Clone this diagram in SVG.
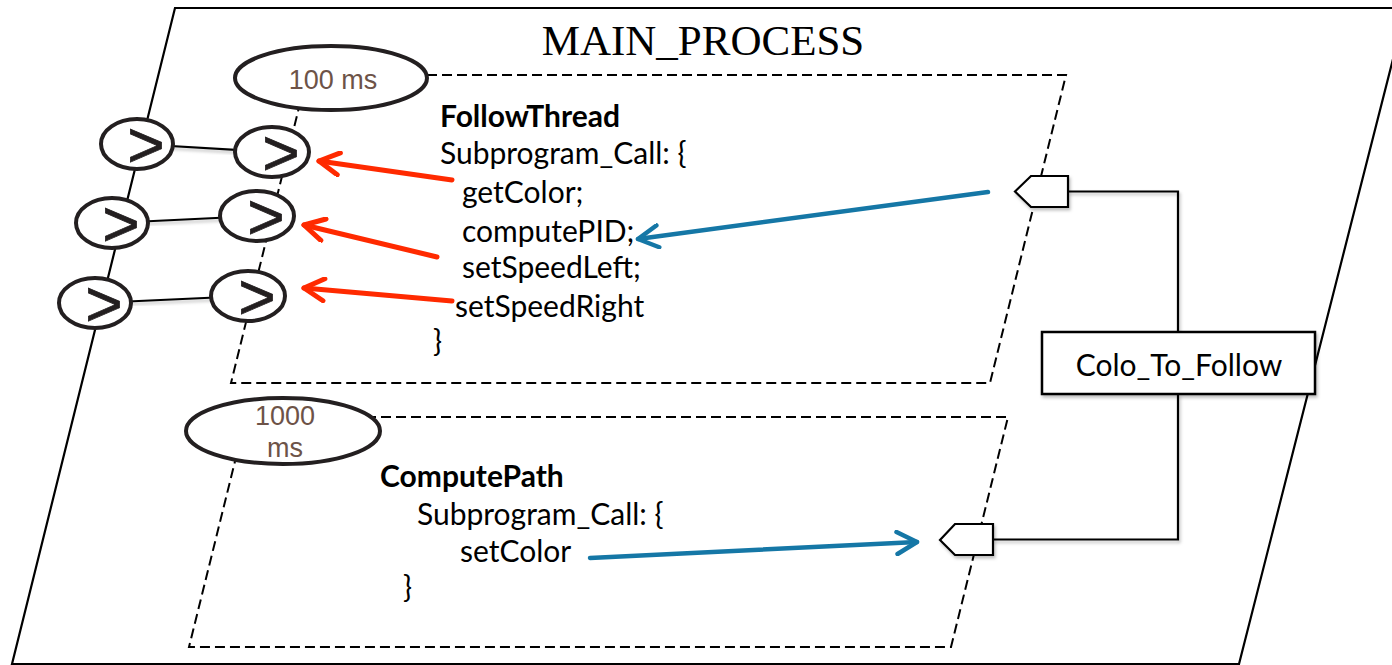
<svg xmlns="http://www.w3.org/2000/svg" width="1392" height="665" viewBox="0 0 1392 665">
  <style>
    .main { fill: #ffffff; stroke: #000000; stroke-width: 2.2; }
    .thread { fill: none; stroke: #000000; stroke-width: 2; stroke-dasharray: 10 5; }
    .period { fill: #ffffff; stroke: #231f20; stroke-width: 4; }
    .periodtxt { font-family: "Liberation Sans", Arial, sans-serif; font-size: 27px; fill: #6d5348; text-anchor: middle; }
    .pport { fill: #ffffff; stroke: #231f20; stroke-width: 4; }
    .gt { font-family: "Liberation Sans", Arial, sans-serif; font-size: 64px; fill: #231f20; stroke: #231f20; stroke-width: 0.8; text-anchor: middle; }
    .link { stroke: #000000; stroke-width: 2.2; fill: none; }
    .code { font-family: Lato, "Liberation Sans", sans-serif; font-size: 30px; fill: #000000; }
    .bold { font-weight: bold; }
    .title { font-family: "Liberation Serif", "Times New Roman", serif; font-size: 43px; fill: #000000; text-anchor: middle; }
    .port { fill: #ffffff; stroke: #000000; stroke-width: 2.2; }
    .red { stroke: #ff2a00; stroke-width: 5; fill: none; stroke-linecap: round; }
    .blue { stroke: #1577a6; stroke-width: 4.5; fill: none; stroke-linecap: round; }
    .box { fill: #ffffff; stroke: #000000; stroke-width: 2.5; }
  </style>
  <defs>
    <marker id="arrRed" viewBox="0 0 26 26" markerWidth="26" markerHeight="26" markerUnits="userSpaceOnUse" refX="23" refY="13" orient="auto">
      <path d="M3,2 L23,13 L3,24" fill="none" stroke="#ff2a00" stroke-width="5" stroke-linecap="round" stroke-linejoin="round"/>
    </marker>
    <marker id="arrBlue" viewBox="0 0 26 26" markerWidth="26" markerHeight="26" markerUnits="userSpaceOnUse" refX="23" refY="13" orient="auto">
      <path d="M3,2 L23,13 L3,24" fill="none" stroke="#1577a6" stroke-width="4.5" stroke-linecap="round" stroke-linejoin="round"/>
    </marker>
    <filter id="shadow" x="-10%" y="-10%" width="130%" height="140%">
      <feDropShadow dx="1.5" dy="2.5" stdDeviation="1.5" flood-color="#000000" flood-opacity="0.25"/>
    </filter>
  </defs>

  <g id="main_process">
    <polygon class="main" points="175,8 1406,8 1239,664 12,664"/>
    <text class="title" x="703" y="55">MAIN_PROCESS</text>
  </g>

  <g id="follow_thread">
    <polygon class="thread" points="307,75 1066,75 990,383 231,383"/>
  </g>

  <g id="compute_path">
    <polygon class="thread" points="246,417 1008,417 951,647 189,647"/>
  </g>

  <g id="connectors">
    <line class="link" x1="137" y1="144" x2="272" y2="152" filter="url(#shadow)"/>
    <line class="link" x1="112" y1="223" x2="257" y2="216" filter="url(#shadow)"/>
    <line class="link" x1="95" y1="303" x2="248" y2="296" filter="url(#shadow)"/>
    <polyline class="link" points="1068,191.5 1178,191.5 1178,332" filter="url(#shadow)"/>
    <polyline class="link" points="1178,394 1178,539.5 993,539.5" filter="url(#shadow)"/>
    <line class="red" x1="452" y1="180" x2="319" y2="161" marker-end="url(#arrRed)"/>
    <line class="red" x1="437" y1="257" x2="304" y2="225" marker-end="url(#arrRed)"/>
    <line class="red" x1="452" y1="301" x2="304" y2="288" marker-end="url(#arrRed)"/>
    <line class="blue" x1="988" y1="192" x2="638" y2="239" marker-end="url(#arrBlue)"/>
    <line class="blue" x1="590" y1="558" x2="917" y2="542" marker-end="url(#arrBlue)"/>
  </g>

  <g id="period_100ms">
    <ellipse class="period" cx="331" cy="78" rx="96" ry="32"/>
    <text class="periodtxt" x="333" y="89">100 ms</text>
  </g>

  <g id="period_1000ms">
    <ellipse class="period" cx="283" cy="431" rx="97" ry="33"/>
    <text class="periodtxt" x="285" y="425">1000</text>
    <text class="periodtxt" x="285" y="457">ms</text>
  </g>

  <g id="proc_port_1">
    <ellipse class="pport" cx="137" cy="144" rx="36" ry="25"/>
    <text class="gt" x="146" y="167">&gt;</text>
  </g>
  <g id="proc_port_2">
    <ellipse class="pport" cx="112" cy="223" rx="36" ry="25"/>
    <text class="gt" x="121" y="246">&gt;</text>
  </g>
  <g id="proc_port_3">
    <ellipse class="pport" cx="95" cy="303" rx="36" ry="25"/>
    <text class="gt" x="104" y="326">&gt;</text>
  </g>
  <g id="thread_port_1">
    <ellipse class="pport" cx="272" cy="152" rx="37" ry="25"/>
    <text class="gt" x="281" y="175">&gt;</text>
  </g>
  <g id="thread_port_2">
    <ellipse class="pport" cx="257" cy="216" rx="37" ry="25"/>
    <text class="gt" x="266" y="239">&gt;</text>
  </g>
  <g id="thread_port_3">
    <ellipse class="pport" cx="248" cy="296" rx="37" ry="25"/>
    <text class="gt" x="257" y="319">&gt;</text>
  </g>

  <g id="follow_thread_text">
    <text class="code bold" x="440" y="127">FollowThread</text>
    <text class="code" x="440" y="164">Subprogram_Call: {</text>
    <text class="code" x="462" y="203">getColor;</text>
    <text class="code" x="462" y="242">computePID;</text>
    <text class="code" x="462" y="278">setSpeedLeft;</text>
    <text class="code" x="455" y="317">setSpeedRight</text>
    <text class="code" x="433" y="352">}</text>
  </g>

  <g id="compute_path_text">
    <text class="code bold" x="380" y="487">ComputePath</text>
    <text class="code" x="417" y="525">Subprogram_Call: {</text>
    <text class="code" x="460" y="562">setColor</text>
    <text class="code" x="403" y="598">}</text>
  </g>

  <g id="port_in_follow">
    <polygon class="port" points="1015,191.5 1031,176 1068,176 1068,207 1031,207" filter="url(#shadow)"/>
  </g>
  <g id="port_out_compute">
    <polygon class="port" points="940,540 955,524 993,524 993,555 955,555" filter="url(#shadow)"/>
  </g>

  <g id="colo_to_follow">
    <rect class="box" x="1042" y="332" width="273" height="62" filter="url(#shadow)"/>
    <text class="code" x="1179" y="376" text-anchor="middle" font-size="31">Colo_To_Follow</text>
  </g>
</svg>
